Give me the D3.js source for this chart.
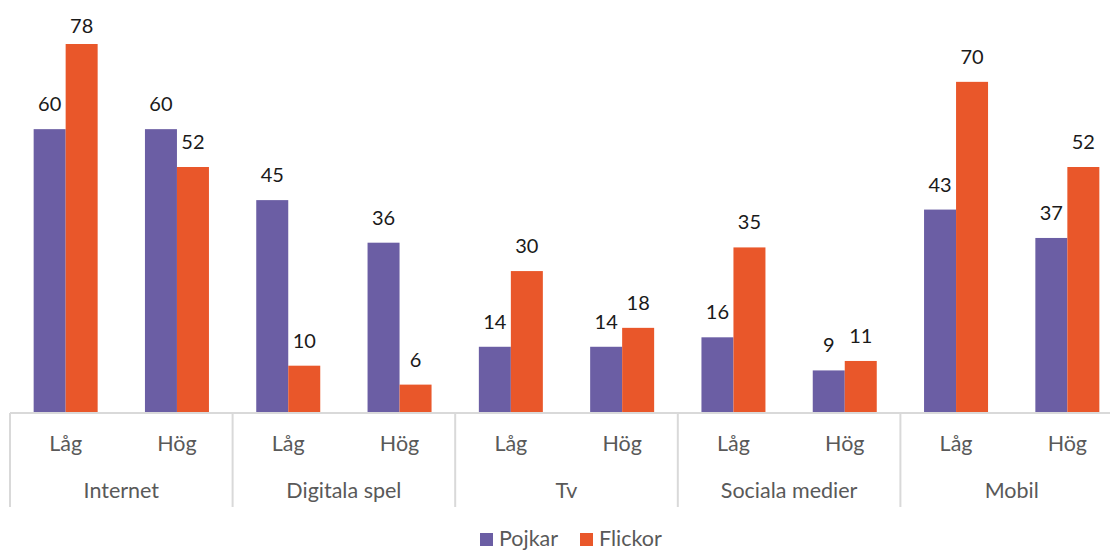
<!DOCTYPE html>
<html>
<head>
<meta charset="utf-8">
<script src="https://cdn.jsdelivr.net/npm/d3@7"></script>
<style>
  body { margin: 0; background: #fff; }
  svg { display: block; }
  text { font-family: Lato, "Open Sans", sans-serif; }
</style>
</head>
<body>
<div id="chart"></div>
<script>
// Data
var groups = ["Internet", "Digitala spel", "Tv", "Sociala medier", "Mobil"];
var levels = ["Låg", "Hög"];
var series = ["Pojkar", "Flickor"];
var colors = ["#6b5ea4", "#e9572a"];
var pojkar  = [60, 60, 45, 36, 14, 14, 16, 9, 43, 37];
var flickor = [78, 52, 10, 6, 30, 18, 35, 11, 70, 52];

var width = 1110, height = 551;

// One entry per Låg/Hög category
var cats = [];
groups.forEach(function(g, gi) {
    levels.forEach(function(l, li) {
        var i = gi * levels.length + li;
        cats.push({id: g + "|" + l, group: g, level: l, values: [pojkar[i], flickor[i]]});
    });
});

var svg = d3.select("#chart").append("svg")
    .attr("width", width).attr("height", height);

var x = d3.scaleBand()
    .domain(cats.map(d => d.id))
    .range([10, 1123])
    .paddingInner(0.425)
    .paddingOuter(0.2125);

var xs = d3.scaleBand().domain(series).range([0, x.bandwidth()]);

var y = d3.scaleLinear().domain([0, 78]).range([413, 44]);

// Bars
var cat = svg.selectAll("g.cat").data(cats).enter().append("g")
    .attr("class", "cat")
    .attr("transform", d => "translate(" + x(d.id) + ",0)");

cat.selectAll("rect").data(d => d.values.map((v, i) => ({s: series[i], v: v, c: colors[i]})))
    .enter().append("rect")
    .attr("x", d => xs(d.s))
    .attr("width", xs.bandwidth())
    .attr("y", d => y(d.v))
    .attr("height", d => y(0) - y(d.v))
    .attr("fill", d => d.c);

// Value labels above each bar
cat.selectAll("text.val").data(d => d.values.map((v, i) => ({s: series[i], v: v})))
    .enter().append("text")
    .attr("class", "val")
    .attr("x", d => xs(d.s) + xs.bandwidth() / 2)
    .attr("y", d => Math.max(y(d.v) - 18, 33))
    .attr("text-anchor", "middle")
    .attr("font-size", 20)
    .attr("fill", "#1a1a1a")
    .text(d => d.v);

// Axis line
svg.append("line")
    .attr("x1", 10).attr("x2", width)
    .attr("y1", y(0)).attr("y2", y(0))
    .attr("stroke", "#d9d9d9").attr("stroke-width", 2);

// Group separators
var step = x.step();
d3.range(groups.length + 1).forEach(function(i) {
    var sx = 10 + i * step * levels.length;
    svg.append("line")
        .attr("x1", sx).attr("x2", sx)
        .attr("y1", y(0)).attr("y2", 507)
        .attr("stroke", "#d9d9d9").attr("stroke-width", 2);
});

// Level labels
svg.selectAll("text.lvl").data(cats).enter().append("text")
    .attr("class", "lvl")
    .attr("x", d => x(d.id) + x.bandwidth() / 2)
    .attr("y", 451)
    .attr("text-anchor", "middle")
    .attr("font-size", 21.5)
    .attr("fill", "#595959")
    .text(d => d.level);

// Group labels
svg.selectAll("text.grp").data(groups).enter().append("text")
    .attr("class", "grp")
    .attr("x", (d, i) => 10 + (i + 0.5) * step * levels.length)
    .attr("y", 498)
    .attr("text-anchor", "middle")
    .attr("font-size", 21.5)
    .attr("fill", "#595959")
    .text(d => d);

// Legend
var legendX = [480, 580];
var leg = svg.selectAll("g.leg").data(series).enter().append("g")
    .attr("class", "leg")
    .attr("transform", (d, i) => "translate(" + legendX[i] + ",533)");
leg.append("rect").attr("width", 13).attr("height", 13).attr("fill", (d, i) => colors[i]);
leg.append("text")
    .attr("x", 19).attr("y", 13)
    .attr("font-size", 21.5)
    .attr("fill", "#595959")
    .text(d => d);
</script>
</body>
</html>
